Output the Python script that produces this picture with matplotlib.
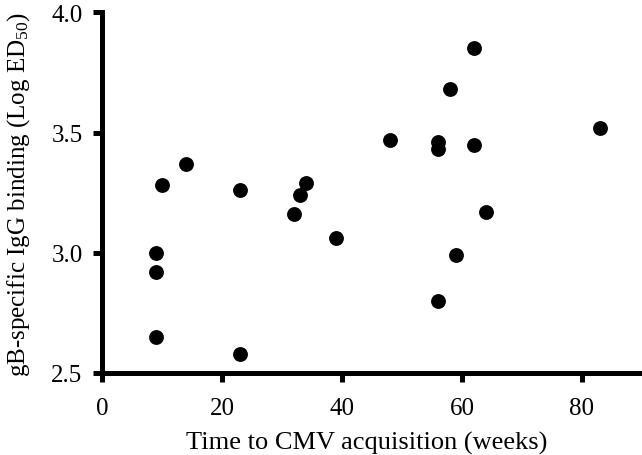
import matplotlib
matplotlib.use("Agg")
import matplotlib.pyplot as plt

weeks = [9, 9, 9, 10, 14, 23, 23, 32, 33, 34, 39, 48, 56, 56, 56, 58, 59, 62, 62, 64, 83]
igg = [3.00, 2.92, 2.65, 3.28, 3.37, 3.26, 2.58, 3.16, 3.24, 3.29, 3.06, 3.47,
       3.46, 3.43, 2.80, 3.68, 2.99, 3.85, 3.45, 3.17, 3.52]
xticks = [0, 20, 40, 60, 80]
yticks = [2.5, 3.0, 3.5, 4.0]
xlabel = 'Time to CMV acquisition (weeks)'
ylabel = 'gB-specific IgG binding (Log ED$_{50}$)'

plt.rcParams['font.family'] = ['Liberation Serif', 'DejaVu Serif']
plt.rcParams['mathtext.fontset'] = 'custom'
plt.rcParams['mathtext.rm'] = 'Liberation Serif'
plt.rcParams['mathtext.it'] = 'Liberation Serif:italic'

W, H = 642, 456
fig = plt.figure(figsize=(W / 100, H / 100), dpi=100)
fig.patch.set_facecolor('white')
left, right, top, bottom = 102, 642, 13.3, 374
ax = fig.add_axes([left / W, (H - bottom) / H, (right - left) / W, (bottom - top) / H])

ax.plot(weeks, igg, 'o', color='black', markersize=10.7, markeredgewidth=0, clip_on=False)

ax.set_xlim(0, 90)
ax.set_ylim(2.5, 4.0)
ax.set_xticks(xticks)
ax.set_yticks(yticks)
ax.set_yticklabels([f"{v:.1f}" for v in yticks])
ax.set_xticklabels([str(v) for v in xticks])

for s in ['top', 'right']:
    ax.spines[s].set_visible(False)
for s in ['left', 'bottom']:
    ax.spines[s].set_linewidth(3.6)
    ax.spines[s].set_color('black')
ax.tick_params(axis='both', direction='out', length=6.5, width=3.6, labelsize=18,
               colors='black')
ax.tick_params(axis='x', pad=10.5)
ax.tick_params(axis='y', pad=7.5)

fig.text(367 / W, 6 / H, xlabel, fontsize=19, ha='center', va='baseline')
fig.text(19 / W, 1 - 194.5 / H, ylabel, fontsize=18, rotation=90, ha='center', va='center')

fig.savefig('out.png', dpi=100, facecolor='white')
